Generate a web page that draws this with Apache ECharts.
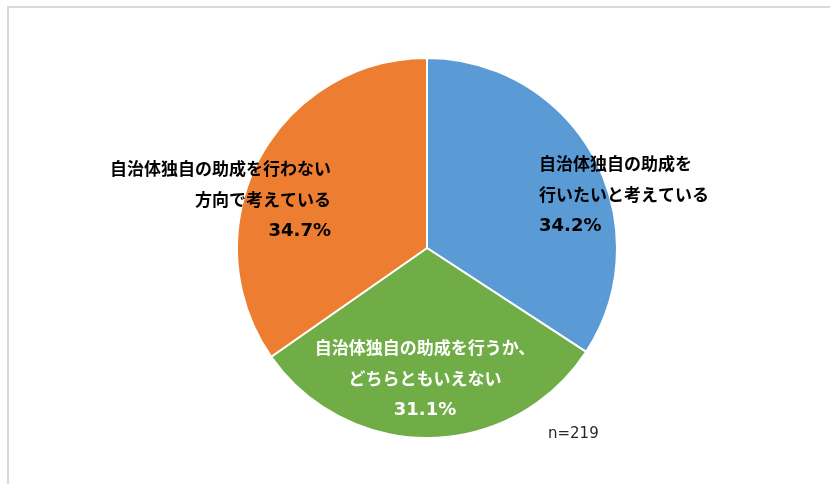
<!DOCTYPE html>
<html>
<head>
<meta charset="utf-8">
<script src="https://cdn.jsdelivr.net/npm/echarts@6/dist/echarts.min.js"></script>
<style>html,body{margin:0;padding:0;background:#fff;}#c{width:830px;height:484px;}</style>
</head>
<body>
<div id="c"></div>
<script>
const categories = ['自治体独自の助成を\n行いたいと考えている', '自治体独自の助成を行うか、\nどちらともいえない', '自治体独自の助成を行わない\n方向で考えている'];
const values = [34.2, 31.1, 34.7];
const colors = ['#5B9BD5', '#70AD47', '#ED7D31'];
const labelColors = ['#000000', '#ffffff', '#000000'];
const note = 'n=219';

const layouts = [
  {x: 539, y: 195, align: 'left'},
  {x: 425, y: 379, align: 'center'},
  {x: 331, y: 200, align: 'right'}
];

const chart = echarts.init(document.getElementById('c'));
chart.setOption({
  animation: false,
  backgroundColor: '#fff',
  graphic: [
    {type: 'rect', shape: {x: 8, y: 7, width: 840, height: 500}, style: {fill: 'none', stroke: '#d9d9d9', lineWidth: 2}, silent: true},
    {type: 'text', left: 548, top: 427, style: {text: note, font: '15px "DejaVu Sans", Verdana, sans-serif', fill: '#262626'}}
  ],
  series: [{
    type: 'pie',
    center: [427, 248],
    radius: [0, 190],
    startAngle: 90,
    clockwise: true,
    data: categories.map((c, i) => ({
      name: c, value: values[i],
      itemStyle: {color: colors[i]},
      label: {color: labelColors[i]}
    })),
    itemStyle: {borderColor: '#fff', borderWidth: 2},
    label: {
      show: true,
      position: 'inside',
      formatter: p => p.name.split('\n').map(s => '{n|' + s + '}').join('\n') + '\n{p|' + p.value.toFixed(1) + '%}',
      fontWeight: 'bold',
      rich: {
        n: {fontFamily: '"Noto Sans CJK JP", sans-serif', fontWeight: 'bold', fontSize: 17, lineHeight: 31},
        p: {fontFamily: '"DejaVu Sans", Verdana, sans-serif', fontWeight: 'bold', fontSize: 18, lineHeight: 31}
      }
    },
    labelLine: {show: false},
    labelLayout: function (params) {
      const l = layouts[params.dataIndex];
      return {x: l.x, y: l.y, align: l.align, verticalAlign: 'middle'};
    }
  }]
});
</script>
</body>
</html>
